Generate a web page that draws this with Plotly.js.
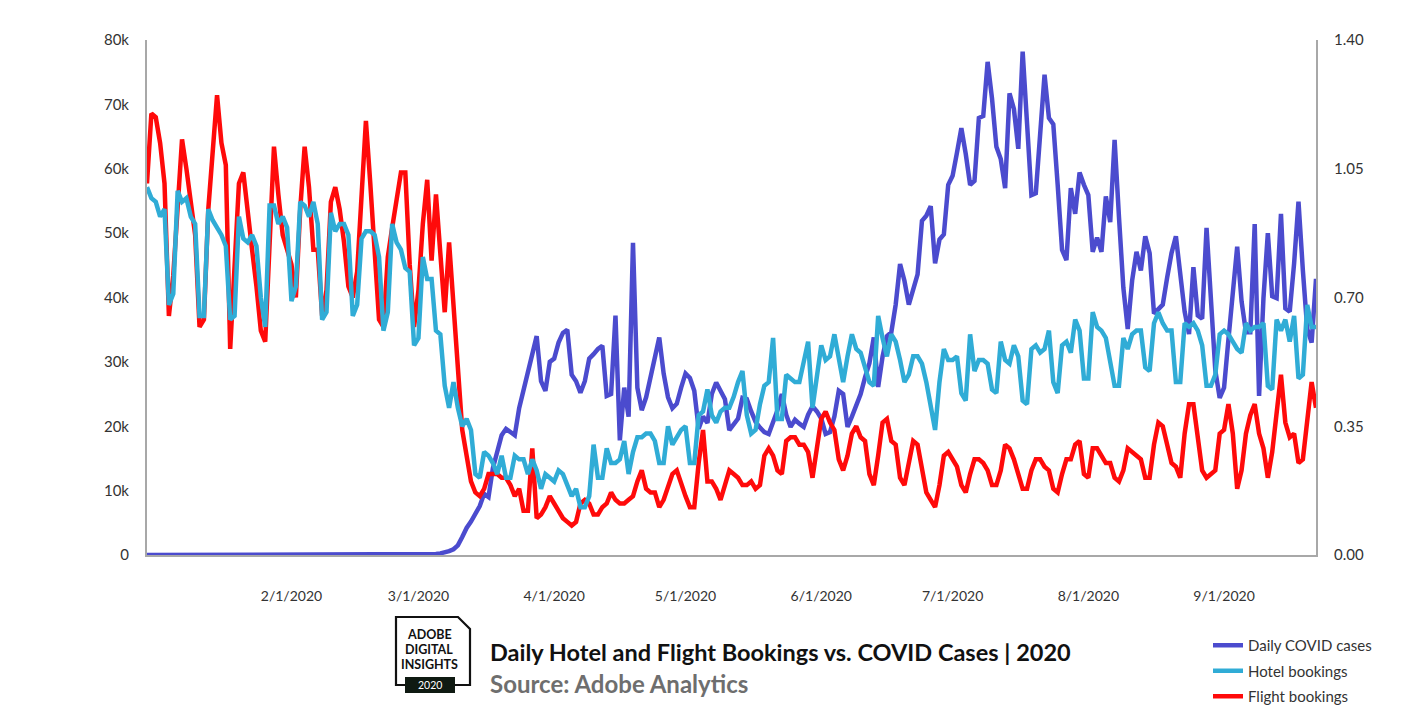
<!DOCTYPE html>
<html>
<head>
<meta charset="utf-8">
<script src="https://cdn.plot.ly/plotly-3.0.1.min.js"></script>
<style>
  html, body { margin: 0; padding: 0; background: #ffffff; }
  #chart { width: 1422px; height: 721px; }
</style>
</head>
<body>
<div id="chart"></div>
<script>
// ---------- DATA ----------
const startDate = '2019-12-30';
const dayCount = 268;

// Daily COVID cases (thousands), left axis
const covidCasesK = [
  0,0,0,0,0,0,0,0,0,0,
  0,0,0,0,0,0,0,0,0,0,
  0,0,0,0,0,0,0,0,0,0,
  0,0,0,0,0,0,0,0,0,0,
  0,0,0,0,0,0,0,0,0,0,
  0,0,0,0,0,0,0,0,0,0,
  0.02,0.02,0.03,0.05,0.07,0.1,0.15,0.25,0.4,0.6,
  0.9,1.5,2.8,4.2,5.2,6.5,7.6,9.5,9.0,13.5,
  16.4,18.6,19.6,19.0,18.6,22.8,25.5,28.5,31.0,34.0,
  27.0,25.5,30.0,30.5,33.0,34.5,35.0,28.0,27.0,25.2,
  27.0,30.5,31.2,32.0,32.5,24.7,25.0,37.2,17.8,26.0,
  21.5,48.5,26.0,22.5,24.5,27.5,31.0,33.8,28.2,24.5,
  22.8,23.5,26.0,28.2,27.5,25.5,19.6,21.5,20.5,25.0,
  26.8,25.5,24.2,19.4,20.2,21.2,24.4,24.2,22.3,20.7,
  19.8,19.1,18.8,20.5,22.5,25.0,21.8,19.9,21.0,20.4,
  19.9,21.8,23.1,22.3,21.2,18.8,19.1,21.5,25.5,25.0,
  19.9,21.5,23.5,25.0,27.6,29.8,33.8,26.1,30.8,34.0,
  34.6,38.9,45.2,42.6,38.9,41.0,43.6,51.9,52.7,54.2,
  45.3,49.0,49.8,57.5,58.9,62.5,66.3,62.3,57.5,58.1,
  67.9,68.2,76.6,70.9,63.4,61.5,57.0,71.7,69.3,63.1,
  78.2,67.1,55.9,56.2,65.5,74.6,67.9,66.9,57.5,47.4,
  45.8,57.0,53.0,59.4,57.5,55.9,47.1,49.3,47.1,55.7,
  51.7,64.5,52.5,41.5,35.1,42.6,47.1,44.2,49.5,46.9,
  37.5,38.3,38.9,43.1,46.9,49.5,43.7,37.8,34.3,44.7,
  37.2,36.7,50.8,39.4,28.7,24.4,26.0,33.5,40.0,47.9,
  39.4,34.6,34.6,51.4,24.7,39.9,50.0,40.2,39.9,53.0,
  38.3,37.8,45.3,54.9,44.2,35.1,33.0,42.9
];

// Hotel bookings (index), right axis
const hotelIndex = [
  1.00,0.97,0.96,0.92,0.94,0.68,0.71,0.99,0.96,0.97,
  0.92,0.90,0.65,0.65,0.94,0.91,0.89,0.87,0.84,0.64,
  0.65,0.92,0.86,0.85,0.87,0.84,0.70,0.62,0.95,0.95,
  0.90,0.92,0.89,0.69,0.73,0.96,0.95,0.92,0.96,0.90,
  0.64,0.66,0.93,0.88,0.90,0.90,0.87,0.65,0.68,0.86,
  0.88,0.88,0.87,0.81,0.61,0.66,0.90,0.85,0.83,0.78,
  0.77,0.57,0.59,0.81,0.75,0.75,0.61,0.60,0.46,0.40,
  0.47,0.40,0.35,0.37,0.34,0.22,0.21,0.28,0.27,0.25,
  0.22,0.27,0.21,0.21,0.27,0.26,0.26,0.22,0.26,0.23,
  0.18,0.22,0.21,0.20,0.23,0.22,0.19,0.16,0.18,0.13,
  0.13,0.16,0.30,0.21,0.21,0.29,0.25,0.25,0.26,0.31,
  0.22,0.28,0.32,0.32,0.33,0.33,0.31,0.25,0.25,0.35,
  0.30,0.32,0.34,0.35,0.25,0.25,0.38,0.39,0.45,0.38,
  0.36,0.39,0.40,0.40,0.43,0.47,0.50,0.38,0.33,0.34,
  0.41,0.46,0.47,0.59,0.37,0.37,0.49,0.48,0.47,0.47,
  0.53,0.58,0.40,0.49,0.57,0.53,0.54,0.60,0.53,0.47,
  0.54,0.60,0.56,0.55,0.51,0.47,0.46,0.65,0.59,0.54,
  0.60,0.58,0.53,0.47,0.49,0.54,0.54,0.52,0.47,0.40,
  0.34,0.47,0.56,0.53,0.53,0.54,0.44,0.42,0.60,0.50,
  0.53,0.53,0.52,0.45,0.44,0.58,0.53,0.52,0.57,0.54,
  0.42,0.41,0.56,0.57,0.55,0.56,0.61,0.47,0.44,0.57,
  0.58,0.55,0.64,0.61,0.48,0.48,0.66,0.62,0.61,0.59,
  0.52,0.46,0.46,0.59,0.56,0.60,0.61,0.61,0.51,0.50,
  0.63,0.66,0.63,0.61,0.61,0.47,0.47,0.63,0.62,0.63,
  0.61,0.57,0.46,0.46,0.49,0.60,0.61,0.60,0.58,0.56,
  0.55,0.63,0.61,0.62,0.62,0.63,0.46,0.45,0.64,0.61,
  0.64,0.58,0.65,0.48,0.49,0.68,0.62,0.62
];

// Flight bookings (index), right axis
const flightIndex = [
  1.01,1.20,1.19,1.12,1.01,0.65,0.76,0.93,1.13,1.05,
  0.96,0.87,0.62,0.64,0.94,1.10,1.25,1.12,1.06,0.56,
  0.77,1.01,1.04,0.92,0.83,0.73,0.61,0.58,0.87,1.11,
  0.98,0.87,0.83,0.79,0.70,0.94,1.11,1.00,0.83,0.83,
  0.65,0.72,0.96,1.00,0.94,0.85,0.73,0.70,0.77,0.98,
  1.18,1.01,0.83,0.64,0.62,0.81,0.89,0.96,1.04,1.04,
  0.79,0.62,0.72,0.90,1.02,0.80,0.98,0.82,0.66,0.85,
  0.68,0.49,0.34,0.27,0.20,0.17,0.16,0.18,0.22,0.22,
  0.22,0.21,0.21,0.19,0.16,0.18,0.12,0.12,0.29,0.10,
  0.11,0.13,0.16,0.14,0.12,0.10,0.09,0.08,0.09,0.14,
  0.15,0.14,0.11,0.11,0.13,0.14,0.17,0.15,0.14,0.14,
  0.15,0.16,0.20,0.23,0.18,0.17,0.17,0.13,0.15,0.19,
  0.22,0.23,0.19,0.16,0.13,0.13,0.25,0.34,0.20,0.20,
  0.18,0.15,0.19,0.23,0.22,0.21,0.19,0.19,0.20,0.18,
  0.19,0.27,0.29,0.27,0.23,0.22,0.31,0.32,0.32,0.30,
  0.30,0.28,0.21,0.29,0.37,0.39,0.36,0.34,0.26,0.23,
  0.27,0.33,0.35,0.32,0.31,0.22,0.19,0.27,0.36,0.37,
  0.31,0.30,0.21,0.19,0.25,0.31,0.30,0.23,0.17,0.15,
  0.13,0.19,0.27,0.28,0.26,0.24,0.19,0.17,0.22,0.26,
  0.26,0.25,0.23,0.19,0.19,0.23,0.30,0.29,0.26,0.22,
  0.18,0.18,0.23,0.26,0.26,0.24,0.23,0.18,0.17,0.22,
  0.26,0.26,0.30,0.31,0.22,0.21,0.29,0.29,0.27,0.25,
  0.25,0.21,0.20,0.23,0.29,0.28,0.27,0.26,0.21,0.21,
  0.30,0.36,0.35,0.30,0.25,0.24,0.21,0.33,0.41,0.41,
  0.33,0.23,0.21,0.22,0.23,0.33,0.34,0.41,0.33,0.18,
  0.23,0.33,0.38,0.41,0.33,0.29,0.21,0.28,0.40,0.49,
  0.36,0.32,0.33,0.25,0.26,0.38,0.47,0.40
];

// Axis ticks
const xTickDates = ['2020-02-01','2020-03-01','2020-04-01','2020-05-01','2020-06-01','2020-07-01','2020-08-01','2020-09-01'];
const xTickLabels = ['2/1/2020','3/1/2020','4/1/2020','5/1/2020','6/1/2020','7/1/2020','8/1/2020','9/1/2020'];
const yLeftTicks = [0,10,20,30,40,50,60,70,80];
const yLeftLabels = ['0','10k','20k','30k','40k','50k','60k','70k','80k'];
const yRightTicks = [0,0.35,0.70,1.05,1.40];
const yRightLabels = ['0.00','0.35','0.70','1.05','1.40'];

const seriesNames = ['Daily COVID cases','Hotel bookings','Flight bookings'];
const titleText = 'Daily Hotel and Flight Bookings vs. COVID Cases | 2020';
const subtitleText = 'Source: Adobe Analytics';

// ---------- BUILD ----------
const dates = [];
{
  const t0 = Date.parse(startDate + 'T00:00:00Z');
  for (let i = 0; i < dayCount; i++) {
    dates.push(new Date(t0 + i * 86400000).toISOString().slice(0, 10));
  }
}

const FONT = 'Lato, "Open Sans", "Noto Sans", sans-serif';
const W = 1422, H = 721;
const M = { l: 147, r: 106, t: 40, b: 166, autoexpand: false };
const PW = W - M.l - M.r, PH = H - M.t - M.b;
const px = X => (X - M.l) / PW;       // pixel x -> paper
const py = Y => (M.t + PH - Y) / PH;  // pixel y -> paper

const traces = [
  { x: dates, y: flightIndex, name: seriesNames[2], yaxis: 'y2', type: 'scatter', mode: 'lines',
    line: { color: '#ff0a0a', width: 4.5 }, legendgroup: 'f', legendrank: 3 },
  { x: dates, y: hotelIndex, name: seriesNames[1], yaxis: 'y2', type: 'scatter', mode: 'lines',
    line: { color: '#30acd6', width: 4.5 }, legendgroup: 'h', legendrank: 2 },
  { x: dates, y: covidCasesK, name: seriesNames[0], yaxis: 'y', type: 'scatter', mode: 'lines',
    line: { color: '#4b4bce', width: 4.5 }, legendgroup: 'c', legendrank: 1 }
];

const logoPath = [
  'M', px(396), py(617), 'L', px(458), py(617), 'L', px(470), py(629),
  'L', px(470), py(685), 'L', px(396), py(685), 'Z'
];
function pathStr(arr) {
  let s = '';
  for (let i = 0; i < arr.length; i++) {
    if (typeof arr[i] === 'string') s += arr[i];
    else { s += arr[i] + ',' + arr[i + 1] + ' '; i++; }
  }
  return s.trim();
}

const layout = {
  width: W, height: H,
  margin: M,
  paper_bgcolor: '#ffffff', plot_bgcolor: '#ffffff',
  font: { family: FONT, color: '#333333' },
  showlegend: true,
  legend: {
    x: px(1208), y: py(629), xanchor: 'left', yanchor: 'top',
    traceorder: 'grouped', tracegroupgap: 3,
    font: { family: FONT, size: 15, color: '#333333' },
    bgcolor: 'rgba(0,0,0,0)'
  },
  xaxis: {
    type: 'date', range: [dates[0], dates[dates.length - 1]],
    tickmode: 'array', tickvals: xTickDates, ticktext: xTickLabels,
    showline: true, linecolor: '#a8a8a8', linewidth: 2,
    showgrid: false, zeroline: false, ticks: '',
    ticklabelstandoff: 27,
    tickfont: { family: FONT, size: 14, color: '#333333' }
  },
  yaxis: {
    range: [0, 80], tickmode: 'array', tickvals: yLeftTicks, ticktext: yLeftLabels,
    showline: true, linecolor: '#a8a8a8', linewidth: 2,
    showgrid: false, zeroline: false, ticks: '',
    ticklabelstandoff: 13,
    tickfont: { family: FONT, size: 15, color: '#333333' }
  },
  yaxis2: {
    overlaying: 'y', side: 'right',
    range: [0, 1.4], tickmode: 'array', tickvals: yRightTicks, ticktext: yRightLabels,
    showline: true, linecolor: '#a8a8a8', linewidth: 2,
    showgrid: false, zeroline: false, ticks: '',
    ticklabelstandoff: 13,
    tickfont: { family: FONT, size: 15, color: '#333333' }
  },
  shapes: [
    { type: 'path', xref: 'paper', yref: 'paper', path: pathStr(logoPath),
      line: { color: '#111111', width: 2.2 }, fillcolor: 'rgba(0,0,0,0)' },
    { type: 'rect', xref: 'paper', yref: 'paper',
      x0: px(405), x1: px(455), y0: py(693), y1: py(677),
      line: { width: 0 }, fillcolor: '#0f1a12' }
  ],
  annotations: [
    { xref: 'paper', yref: 'paper', x: px(429), y: py(634), text: '<b>ADOBE</b>', showarrow: false,
      xanchor: 'center', yanchor: 'middle', font: { family: FONT, size: 12.5, color: '#111111' } },
    { xref: 'paper', yref: 'paper', x: px(429), y: py(649), text: '<b>DIGITAL</b>', showarrow: false,
      xanchor: 'center', yanchor: 'middle', font: { family: FONT, size: 12.5, color: '#111111' } },
    { xref: 'paper', yref: 'paper', x: px(429), y: py(664), text: '<b>INSIGHTS</b>', showarrow: false,
      xanchor: 'center', yanchor: 'middle', font: { family: FONT, size: 12.5, color: '#111111' } },
    { xref: 'paper', yref: 'paper', x: px(430), y: py(685), text: '2020', showarrow: false,
      xanchor: 'center', yanchor: 'middle', font: { family: FONT, size: 10.5, color: '#ffffff' } },
    { xref: 'paper', yref: 'paper', x: px(488), y: py(652), text: '<b>' + titleText + '</b>', showarrow: false,
      xanchor: 'left', yanchor: 'middle', font: { family: FONT, size: 23.5, color: '#111111' } },
    { xref: 'paper', yref: 'paper', x: px(488), y: py(683), text: '<b>' + subtitleText + '</b>', showarrow: false,
      xanchor: 'left', yanchor: 'middle', font: { family: FONT, size: 24, color: '#6e6e6e' } }
  ]
};

Plotly.newPlot('chart', traces, layout, { displayModeBar: false, staticPlot: true });
</script>
</body>
</html>
